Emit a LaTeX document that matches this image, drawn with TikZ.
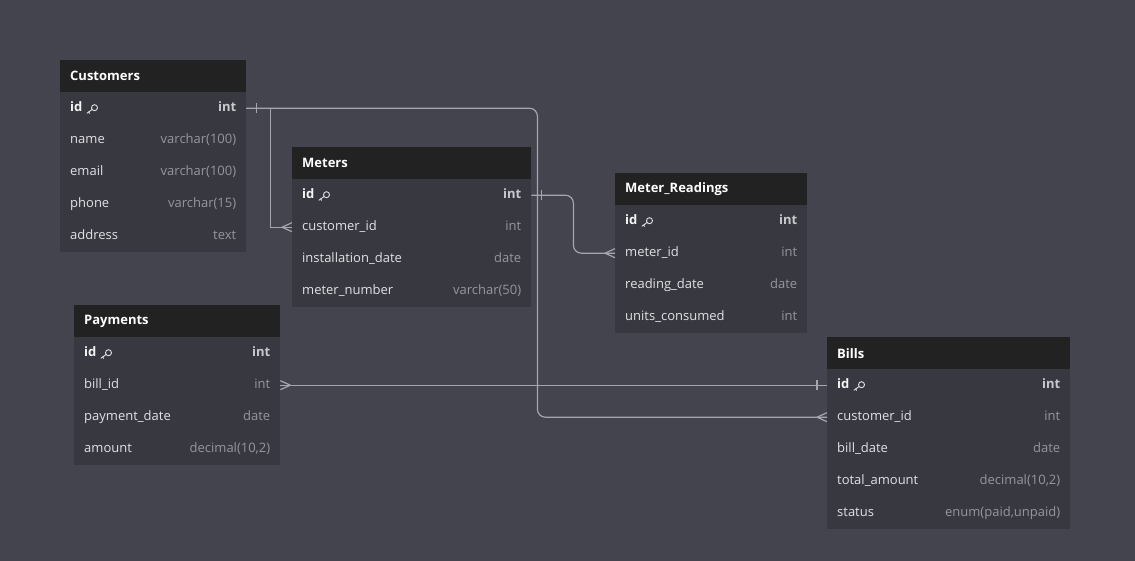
\documentclass[tikz,border=0pt]{standalone}
\usepackage{fontspec}
\setmainfont{Open Sans}
\usetikzlibrary{calc}
\definecolor{bgc}{RGB}{68,68,78}
\definecolor{bodyc}{RGB}{56,56,65}
\definecolor{hdrc}{RGB}{34,34,34}
\definecolor{linec}{RGB}{165,165,175}
\definecolor{namec}{RGB}{225,225,229}
\definecolor{typec}{RGB}{150,150,158}
\definecolor{boldc}{RGB}{245,245,245}
\definecolor{boldtypec}{RGB}{200,200,205}
\tikzset{
  hdr/.style={fill=hdrc, minimum height=32, inner sep=0, anchor=north west},
  rowbox/.style={fill=bodyc, minimum height=32, inner sep=0, anchor=north west},
  hdrtxt/.style={inner sep=0, text=white, font=\fontsize{13}{15}\selectfont\bfseries},
  fieldtxt/.style={inner sep=0, text=namec, font=\fontsize{13}{15}\selectfont},
  typetxt/.style={inner sep=0, text=typec, font=\fontsize{13}{15}\selectfont},
  idtxt/.style={inner sep=0, text=boldc, font=\fontsize{13}{15}\selectfont\bfseries},
  idtypetxt/.style={inner sep=0, text=boldtypec, font=\fontsize{13}{15}\selectfont\bfseries},
  conn/.style={draw=linec, line width=1.2pt},
  keyline/.style={draw=namec, line width=0.9pt, line cap=round}
}
\newcommand{\erhead}[5]{%
  \node[hdr, minimum width=#4] (#1) at (#2,#3) {};
  \node[hdrtxt, anchor=west] (#1-t) at ([xshift=10pt]#1.west) {#5};}
\newcommand{\errow}[6]{%
  \node[rowbox, minimum width=#4] (#1) at (#2,#3) {};
  \node[fieldtxt, anchor=west] (#1-f) at ([xshift=10pt]#1.west) {\strut #5};
  \node[typetxt, anchor=east] (#1-t) at ([xshift=-10pt]#1.east) {\strut #6};}
\newcommand{\erid}[4]{%
  \node[rowbox, minimum width=#4] (#1) at (#2,#3) {};
  \node[idtxt, anchor=west] (#1-f) at ([xshift=10pt]#1.west) {\strut id};
  \coordinate (#1-k) at ($(#1.west)+(27,5)$);
  \draw[keyline] ($(#1-k)+(7.5,-5.5)$) circle (3);
  \draw[keyline] (#1-k) -- ($(#1-k)+(5.1,-3.7)$);
  \draw[keyline] ($(#1-k)+(1.6,-1.2)$) -- ($(#1-k)+(2.6,0.2)$);
  \node[idtypetxt, anchor=east] (#1-t) at ([xshift=-10pt]#1.east) {\strut int};}
\newcommand{\onebar}[2]{\draw[conn] ($(#1)+(#2,-5)$) -- ($(#1)+(#2,5)$);}
\newcommand{\crowW}[1]{\draw[conn] ($(#1)+(-10,0)$) -- ($(#1)+(0,-4.5)$) ($(#1)+(-10,0)$) -- ($(#1)+(0,4.5)$);}
\newcommand{\crowE}[1]{\draw[conn] ($(#1)+(10,0)$) -- ($(#1)+(0,-4.5)$) ($(#1)+(10,0)$) -- ($(#1)+(0,4.5)$);}
\begin{document}
\begin{tikzpicture}[x=1pt,y=-1pt]
\fill[bgc] (0,0) rectangle (1135,561);
\useasboundingbox (0,0) rectangle (1135,561);

% Customers
\erhead{cust}{60}{60}{186}{Customers}
\erid{cust-id}{60}{92}{186}
\errow{cust-name}{60}{124}{186}{name}{varchar(100)}
\errow{cust-email}{60}{156}{186}{email}{varchar(100)}
\errow{cust-phone}{60}{188}{186}{phone}{varchar(15)}
\errow{cust-address}{60}{220}{186}{address}{text}

% Meters
\erhead{met}{292}{147}{239}{Meters}
\erid{met-id}{292}{179}{239}
\errow{met-custid}{292}{211}{239}{customer\_id}{int}
\errow{met-inst}{292}{243}{239}{installation\_date}{date}
\errow{met-num}{292}{275}{239}{meter\_number}{varchar(50)}

% Meter_Readings
\erhead{mr}{615}{173}{192}{Meter\_Readings}
\erid{mr-id}{615}{205}{192}
\errow{mr-metid}{615}{237}{192}{meter\_id}{int}
\errow{mr-date}{615}{269}{192}{reading\_date}{date}
\errow{mr-units}{615}{301}{192}{units\_consumed}{int}

% Payments
\erhead{pay}{74}{305}{206}{Payments}
\erid{pay-id}{74}{337}{206}
\errow{pay-billid}{74}{369}{206}{bill\_id}{int}
\errow{pay-date}{74}{401}{206}{payment\_date}{date}
\errow{pay-amount}{74}{433}{206}{amount}{decimal(10,2)}

% Bills
\erhead{bill}{827}{337}{243}{Bills}
\erid{bill-id}{827}{369}{243}
\errow{bill-custid}{827}{401}{243}{customer\_id}{int}
\errow{bill-date}{827}{433}{243}{bill\_date}{date}
\errow{bill-total}{827}{465}{243}{total\_amount}{decimal(10,2)}
\errow{bill-status}{827}{497}{243}{status}{enum(paid,unpaid)}

% connectors
\draw[conn] (cust-id.east) -- ++(24,0) |- (met-custid.west);
\draw[conn, rounded corners=8pt] (cust-id.east) -- ++(291,0) |- (bill-custid.west);
\draw[conn, rounded corners=8pt] (met-id.east) -- ++(42,0) |- (mr-metid.west);
\draw[conn] (pay-billid.east) -- (bill-id.west);

\onebar{cust-id.east}{10}
\onebar{met-id.east}{10}
\onebar{bill-id.west}{-10}
\crowW{met-custid.west}
\crowW{mr-metid.west}
\crowW{bill-custid.west}
\crowE{pay-billid.east}
\end{tikzpicture}
\end{document}
